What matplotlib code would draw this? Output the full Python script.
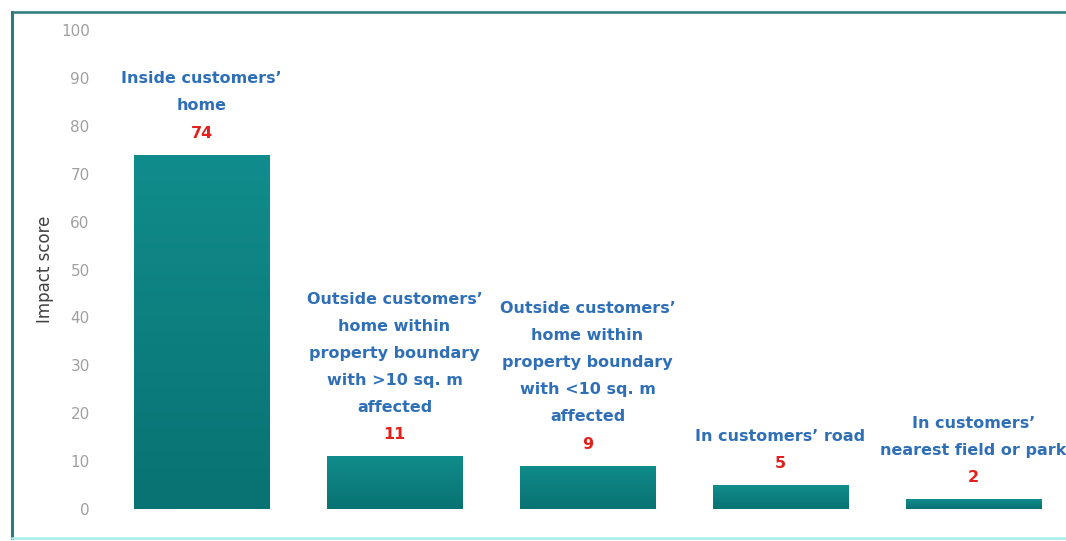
import matplotlib.pyplot as plt
import numpy as np
from matplotlib.colors import LinearSegmentedColormap
from matplotlib.lines import Line2D

categories = [
    "Inside customers’\nhome",
    "Outside customers’\nhome within\nproperty boundary\nwith >10 sq. m\naffected",
    "Outside customers’\nhome within\nproperty boundary\nwith <10 sq. m\naffected",
    "In customers’ road",
    "In customers’\nnearest field or park",
]
scores = [74, 11, 9, 5, 2]
yticks = [0, 10, 20, 30, 40, 50, 60, 70, 80, 90, 100]

plt.rcParams['font.family'] = ['DejaVu Sans']

fig = plt.figure(figsize=(10.66, 5.41), dpi=100)
ax = fig.add_axes([0.0985, 0.0591, 0.9053, 0.8854])

x = np.arange(len(scores))
bars = ax.bar(x, scores, width=0.70, color='#0e8282', zorder=2)

# vertical teal gradient inside each bar
teal = LinearSegmentedColormap.from_list('teal', ['#097272', '#118c8c'])
grad = np.linspace(0, 1, 256).reshape(-1, 1)
for b in bars:
    x0, y0 = b.get_x(), b.get_y()
    im = ax.imshow(grad, cmap=teal, origin='lower', aspect='auto',
                   extent=(x0, x0 + b.get_width(), y0, y0 + b.get_height()),
                   zorder=3)
    im.set_clip_path(b)

for xi, val, name in zip(x, scores, categories):
    ax.annotate(str(val), (xi, val), xytext=(0, 15.5), textcoords='offset points',
                ha='center', va='center', color='#e3201b', fontsize=11.5,
                fontweight='bold')
    ax.annotate(name, (xi, val), xytext=(0, 32), textcoords='offset points',
                ha='center', va='baseline', color='#2f6fb8', fontsize=11.5,
                fontweight='bold', linespacing=2.0)

ax.set_xlim(-0.5, len(scores) - 0.5)
ax.set_ylim(0, 100)
ax.set_yticks(yticks)
ax.set_xticks([])
ax.tick_params(axis='y', length=0, labelsize=11, labelcolor='#a0a0a0', pad=11)
for s in ax.spines.values():
    s.set_visible(False)
ax.set_ylabel("Impact score", fontsize=12, color='#404040', labelpad=5)

# frame lines around the chart area
fig.add_artist(Line2D([12 / 1066, 1], [1 - 12 / 541, 1 - 12 / 541],
                      color='#2f7b7b', lw=1.8))
fig.add_artist(Line2D([12 / 1066, 12 / 1066], [3 / 541, 1 - 12 / 541],
                      color='#2f7b7b', lw=2.2))
fig.add_artist(Line2D([12 / 1066, 1], [3 / 541, 3 / 541],
                      color='#a6eef0', lw=1.8))

fig.savefig('out.png', dpi=100)
